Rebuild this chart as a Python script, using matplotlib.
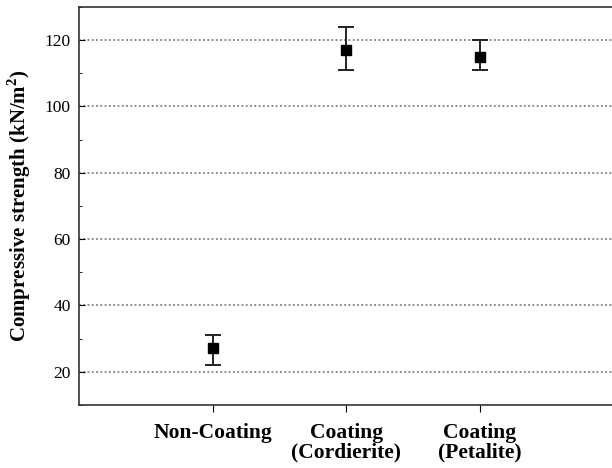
import numpy as np
import matplotlib
matplotlib.use("Agg")
import matplotlib.pyplot as plt
from matplotlib.ticker import MultipleLocator

plt.rcParams["font.family"] = ["Liberation Serif", "DejaVu Serif"]
plt.rcParams["mathtext.fontset"] = "custom"
plt.rcParams["mathtext.rm"] = "Liberation Serif"
plt.rcParams["mathtext.bf"] = "Liberation Serif:bold"

categories = ["Non-Coating", "Coating\n(Cordierite)", "Coating\n(Petalite)"]
strength = [27, 117, 115]
err_low = [22, 111, 111]
err_high = [31, 124, 120]

x = np.arange(1, len(categories) + 1)
yerr = [np.subtract(strength, err_low), np.subtract(err_high, strength)]

fig = plt.figure(figsize=(6.12, 4.68), dpi=100)
ax = fig.add_axes([0.129, 0.135, 0.873, 0.85])

ax.errorbar(x, strength, yerr=yerr, fmt="s", color="black", ms=6.5,
            ecolor="#222222", elinewidth=1.4, capsize=5.5, capthick=1.4)

ax.set_xlim(0, 4)
ax.set_ylim(10, 130)
ax.set_xticks(x)
ax.set_xticklabels(categories, fontsize=15.5, fontweight="bold",
                   linespacing=1.0)
ax.yaxis.set_major_locator(MultipleLocator(20))
ax.yaxis.set_minor_locator(MultipleLocator(10))
ax.set_yticks([20, 40, 60, 80, 100, 120])
ax.tick_params(axis="y", which="both", direction="in", labelsize=12.5,
               pad=6)
ax.tick_params(axis="y", which="major", length=4)
ax.tick_params(axis="y", which="minor", length=2.5)
ax.tick_params(axis="x", direction="out", length=5, pad=8)
ax.yaxis.grid(True, linestyle=(0, (1.2, 1.6)), color="#6a6a6a", lw=1.1)
ax.set_axisbelow(True)
ax.set_ylabel("Compressive strength (kN/m$^\\mathbf{2}$)", fontsize=15,
              fontweight="bold", labelpad=8)
ax.spines["right"].set_visible(False)
for s in ax.spines.values():
    s.set_linewidth(1.2)
    s.set_color("#333333")

fig.savefig("out.png", dpi=100)
